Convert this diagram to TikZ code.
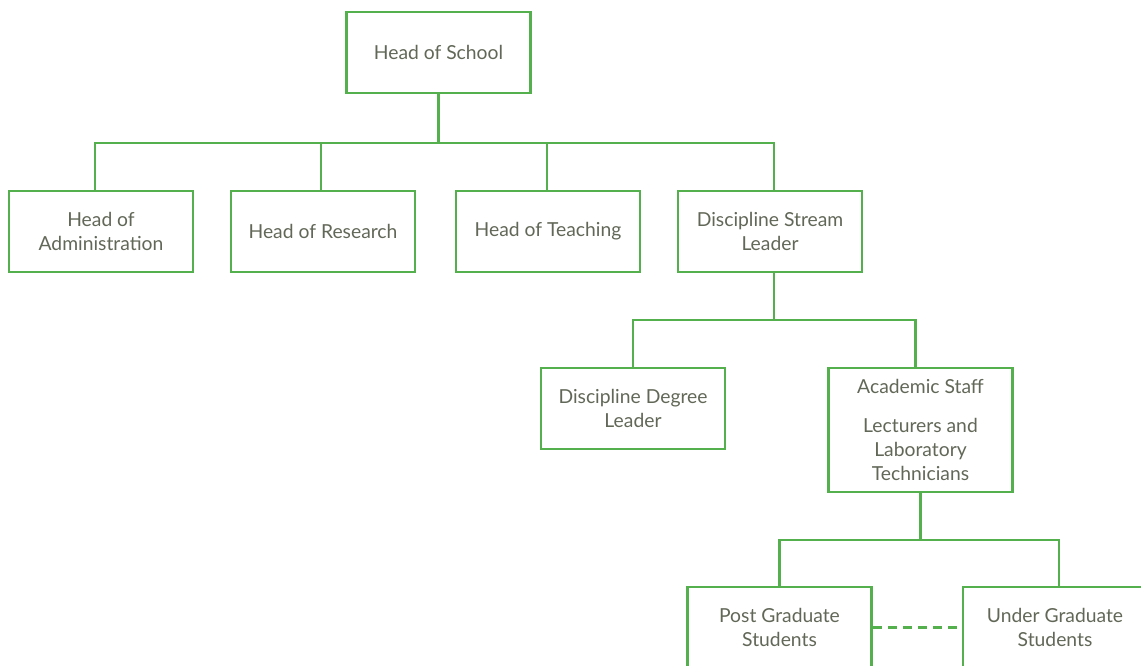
\documentclass[tikz,border=0pt]{standalone}
\usepackage{fontspec}
\setmainfont{Lato}
\definecolor{orgline}{RGB}{84,176,76}
\definecolor{orgtext}{RGB}{98,104,88}
\begin{document}
\begin{tikzpicture}[x=1pt,y=-1pt,
  box/.style={draw=orgline, line width=2.6pt, fill=white, minimum width=184pt,
    minimum height=81pt, inner sep=0pt, align=center, text=orgtext,
    font=\fontsize{19.3}{24}\selectfont},
  link/.style={draw=orgline, line width=2.6pt},
  dashlink/.style={link, dash pattern=on 9pt off 6pt}]
\useasboundingbox (0,0) rectangle (1141,666);
\clip (0,0) rectangle (1141,666);

% top level
\node[box] (hos) at (438.5,52.5) {Head of School};

% second row
\node[box] (adm) at (101,231.5) {Head of\\Administration};
\node[box] (res) at (323,231.5) {Head of Research};
\node[box] (tea) at (548,231.5) {Head of Teaching};
\node[box] (dsl) at (770,231.5) {Discipline Stream\\Leader};

% third row
\node[box] (ddl) at (633,408.5) {Discipline Degree\\Leader};
\node[box, minimum height=124pt] (acs) at (920.5,430)
  {Academic Staff\\[15pt]Lecturers and\\Laboratory\\Technicians};

% fourth row
\node[box] (pgs) at (779.5,627.5) {Post Graduate\\Students};
\node[box] (ugs) at (1055,627.5) {Under Graduate\\Students};

% bus bars
\coordinate (bus1) at (438.5,143);
\coordinate (bus2) at (774,320);
\coordinate (bus3) at (920.5,540);

\draw[link] (hos.south) -- (bus1);
\draw[link] ([xshift=-6pt]adm.north) |- (bus1) -| ([xshift=4pt]dsl.north);
\draw[link] ([xshift=-2pt]res.north) -- ([xshift=-2pt]res.north |- bus1);
\draw[link] ([xshift=-1pt]tea.north) -- ([xshift=-1pt]tea.north |- bus1);

\draw[link] ([xshift=4pt]dsl.south) -- (bus2);
\draw[link] (ddl.north) |- (bus2) -| ([xshift=-5pt]acs.north);

\draw[link] (acs.south) -- (bus3);
\draw[link] (pgs.north) |- (bus3) -| ([xshift=4pt]ugs.north);

\draw[dashlink] (pgs.east) -- (ugs.west);
\end{tikzpicture}
\end{document}
